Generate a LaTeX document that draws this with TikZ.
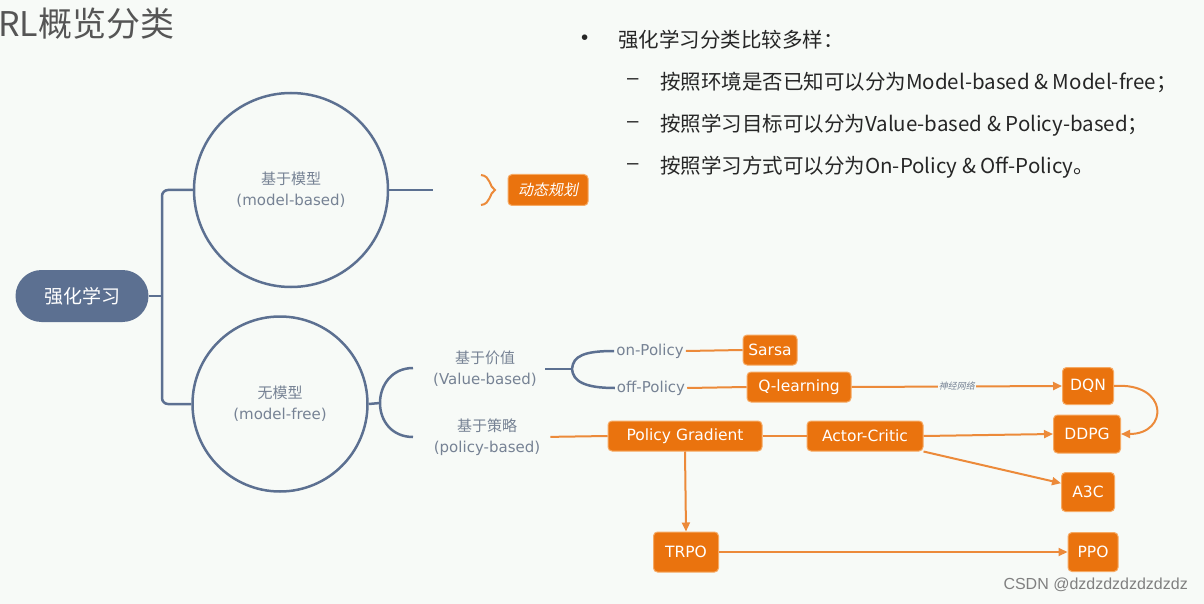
\documentclass[tikz,border=0pt]{standalone}
\usepackage{fontspec}
\setmainfont{Noto Sans CJK SC}
\newfontfamily\slantfont[FakeSlant=0.2]{Noto Sans CJK SC}
\newfontfamily\markfont{Liberation Sans}
\newfontfamily\wide{DejaVu Sans}
\usepackage{tikz}
\usetikzlibrary{positioning, arrows.meta, calc}

\definecolor{bgcol}{RGB}{247,250,247}
\definecolor{slate}{RGB}{92,112,145}
\definecolor{slatetext}{RGB}{118,130,148}
\definecolor{titlegray}{RGB}{85,85,85}
\definecolor{boxorange}{RGB}{234,115,14}
\definecolor{boxrim}{RGB}{246,170,100}
\definecolor{lineorange}{RGB}{236,138,58}

\begin{document}
\begin{tikzpicture}[x=1pt, y=-1pt,
    rootbox/.style={fill=slate, text=white, rounded corners=26pt,
        minimum width=133pt, minimum height=52pt, inner sep=0pt,
        font=\fontsize{19}{19}\selectfont},
    ring/.style={circle, draw=slate, line width=2.5pt, inner sep=0pt,
        align=center, text=slatetext, font=\fontsize{15}{21}\selectfont},
    tag/.style={text=slatetext, align=center, inner sep=2pt,
        font=\fontsize{15}{21}\selectfont},
    algo/.style={fill=boxorange, draw=boxrim, line width=1pt, rounded corners=4pt,
        text=white, inner sep=0pt, minimum height=30pt,
        font=\wide\fontsize{15.5}{16}\selectfont},
    branch/.style={draw=slate, line width=2.5pt},
    link/.style={draw=lineorange, line width=2pt},
    arrow/.style={link, -{Triangle[length=9pt, width=8pt]}},
    bullet/.style={anchor=west, inner sep=0pt, text=black!85,
        font=\fontsize{20.5}{20.5}\selectfont}]

    % background and page size
    \fill[bgcol] (0,0) rectangle (1204,604);
    \useasboundingbox (0,0) rectangle (1204,604);

    % title
    \node[anchor=west, inner sep=0pt, text=titlegray,
        font=\fontsize{34}{34}\selectfont] (title) at (-2,24) {RL概览分类};

    % text at top right
    \node[bullet] (dot) at (581,40) {\markfont •};
    \node[bullet] (intro) at (618,40) {强化学习分类比较多样：};
    \foreach \y/\txt in {
        82/按照环境是否已知可以分为Model-based \& Model-free；,
        125/按照学习目标可以分为Value-based \& Policy-based；,
        167/按照学习方式可以分为On-Policy \& Off-Policy。}{
        \node[bullet] at (627,\y) {\markfont –};
        \node[bullet] at (660,\y) {\txt};
    }

    % tree
    \node[rootbox] (rl) at (82,296) {强化学习};
    \node[ring, minimum size=194pt] (mb) at (291,190) {基于模型\\{\wide(model-based)}};
    \node[ring, minimum size=175pt] (mf) at (280,404) {无模型\\{\wide(model-free)}};

    \coordinate (trunk) at (162,296);
    \draw[branch] (rl.east) -- (trunk);
    \draw[branch, rounded corners=6pt] (mb.west) -| (trunk) |- (mf.west);

    % model-based
    \coordinate (mbend) at (433,190);
    \draw[branch] (mb.east) -- (mbend);
    \draw[link] (481,175) .. controls (491,176) and (489,187) .. (495,190)
        .. controls (489,193) and (491,204) .. (481,205);
    \node[algo, minimum width=80pt, minimum height=31pt,
        font=\slantfont\fontsize{15}{15}\selectfont] (dp) at (548,190) {动态规划};

    % model-free
    \coordinate (fork) at (380,403);
    \draw[branch] (mf.east) -- (fork);
    \draw[branch] (413,368) .. controls (392,368) and (380,385) .. (fork)
        .. controls (380,421) and (392,437) .. (413,437);
    \node[tag] (vb) at (485,369) {基于价值\\{\wide(Value-based)}};
    \node[tag] (pb) at (487,437) {基于策略\\{\wide(policy-based)}};

    % value-based
    \node[tag, font=\wide\fontsize{15}{15}\selectfont] (onp) at (650,351) {on-Policy};
    \node[tag, font=\wide\fontsize{15}{15}\selectfont] (offp) at (651,388) {off-Policy};
    \coordinate (vfork) at (572,369);
    \draw[branch, shorten <=6pt] (vb.east) -- (vfork);
    \draw[branch] (onp.west) .. controls (584,351) and (573,356) .. (vfork)
        .. controls (573,381) and (584,388) .. (offp.west);

    \node[algo, minimum width=54pt] (sarsa) at (770,350) {Sarsa};
    \node[algo, minimum width=104pt] (ql) at (799,387) {Q-learning};
    \node[algo, minimum width=51pt, minimum height=37pt] (dqn) at (1088,386) {DQN};
    \node[algo, minimum width=67pt, minimum height=38pt] (ddpg) at (1087,434) {DDPG};
    \node[algo, minimum width=53pt, minimum height=39pt] (a3c) at (1088,492) {A3C};

    % policy-based
    \node[algo, minimum width=154pt] (pg) at (685,436) {Policy Gradient};
    \node[algo, minimum width=116pt] (ac) at (865,436) {Actor-Critic};
    \node[algo, minimum width=65pt, minimum height=40pt] (trpo) at (686,552) {TRPO};
    \node[algo, minimum width=50pt, minimum height=39pt] (ppo) at (1093,552) {PPO};

    \draw[link] (onp.east) -- (sarsa.west);
    \draw[link] (offp.east) -- (ql.west);
    \draw[arrow] (ql.east) -- node[fill=bgcol, inner sep=1pt, text=slatetext,
        font=\slantfont\fontsize{9}{9}\selectfont] (nn) {神经网络} (dqn.west);
    \draw[arrow] (dqn.east) .. controls +(55,-4) and +(48,0) .. (ddpg.east);
    \draw[link, shorten <=8pt] (pb.east) -- (pg.west);
    \draw[link] (pg.east) -- (ac.west);
    \draw[arrow] (ac.east) -- (ddpg.west);
    \draw[arrow] (ac.south east) -- (a3c.162);
    \draw[arrow] (pg.south) -- (trpo.north);
    \draw[arrow] (trpo.east) -- (ppo.west);

    % watermark
    \node[anchor=east, inner sep=0pt, text=gray,
        font=\markfont\fontsize{16}{16}\selectfont] (mark) at (1188,585) {CSDN @dzdzdzdzdzdzdz};
\end{tikzpicture}
\end{document}
